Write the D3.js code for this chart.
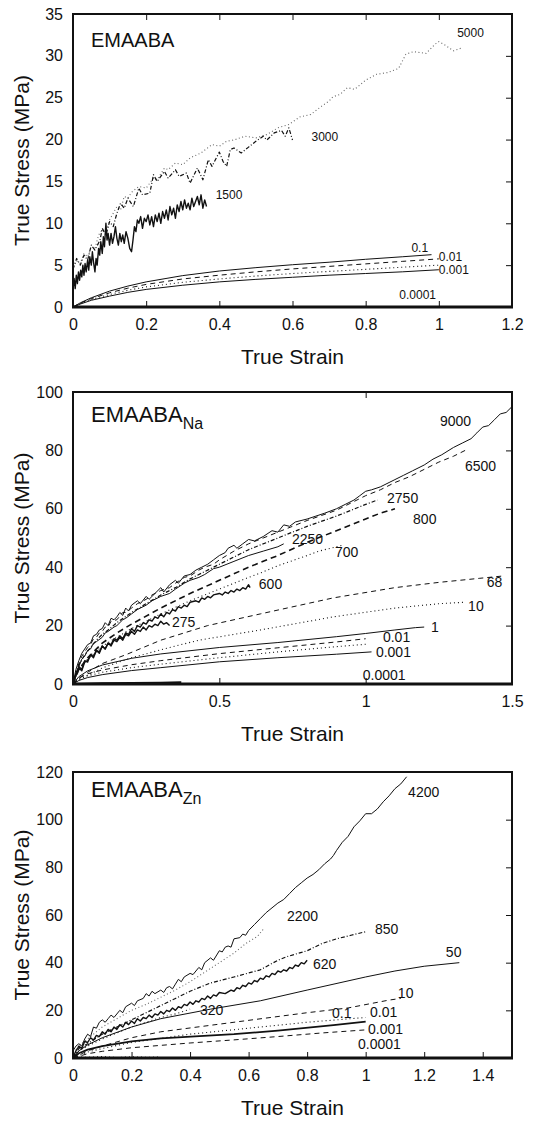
<!DOCTYPE html>
<html>
<head>
<meta charset="utf-8">
<script src="https://cdn.jsdelivr.net/npm/d3@7"></script>
<style>
  body { margin: 0; background: #fff; }
  svg text { font-family: "Liberation Sans", Arial, sans-serif; fill: #111; }
</style>
</head>
<body>
<div class="chart"></div>
<script>
const width = 544;
const height = 1124;

// ---- panel 1 : EMAABA ----
const p1_5000 = [[0,4.8],[0.01,5.5],[0.02,5.2],[0.03,6.4],[0.04,6.0],[0.05,7.2],[0.06,7.0],[0.07,8.6],[0.08,9.2],[0.09,8.8],[0.1,10.4],[0.11,11.2],[0.12,12.0],[0.13,11.6],[0.14,13.2],[0.15,13.0],[0.16,13.7],[0.18,14.4],[0.2,14.2],[0.22,15.4],[0.23,15.2],[0.25,16.6],[0.26,16.4],[0.28,17.2],[0.3,17.0],[0.32,17.8],[0.35,18.4],[0.38,19.4],[0.4,19.2],[0.42,19.8],[0.44,19.95],[0.47,20.4],[0.5,20.2],[0.53,20.6],[0.56,21.4],[0.59,21.8],[0.62,22.7],[0.65,23.0],[0.68,24.0],[0.7,24.6],[0.71,25.1],[0.73,25.4],[0.75,26.2],[0.77,26.0],[0.8,27.1],[0.83,27.8],[0.86,28.0],[0.89,28.5],[0.91,30.2],[0.93,30.5],[0.965,30.3],[0.99,31.4],[1.0,31.7],[1.02,31.2],[1.04,30.6],[1.066,31.0]];
const p1_3000 = [[0,4.5],[0.01,5.8],[0.02,5.0],[0.03,6.2],[0.04,5.6],[0.05,7.4],[0.06,6.8],[0.074,8.0],[0.08,9.4],[0.09,8.6],[0.1,10.2],[0.11,9.6],[0.12,11.2],[0.13,12.4],[0.14,11.8],[0.15,13.0],[0.165,12.0],[0.18,14.2],[0.19,13.4],[0.21,13.6],[0.22,15.8],[0.23,15.0],[0.25,16.2],[0.26,15.4],[0.28,16.4],[0.29,15.6],[0.31,16.0],[0.32,14.8],[0.34,16.6],[0.355,15.2],[0.37,17.6],[0.38,16.8],[0.4,18.5],[0.41,17.4],[0.42,16.8],[0.43,18.8],[0.44,19.0],[0.46,18.4],[0.48,19.1],[0.5,19.8],[0.52,20.4],[0.53,19.95],[0.55,20.8],[0.57,21.1],[0.58,20.4],[0.59,21.4],[0.6,19.95]];
const p1_1500 = [[0,2],[0.003,3.4],[0.006,2.2],[0.009,3.8],[0.012,2.8],[0.015,4.2],[0.018,3.2],[0.021,4.4],[0.024,3.6],[0.027,5.0],[0.03,3.8],[0.033,5.2],[0.036,4.2],[0.04,5.6],[0.043,4.4],[0.046,6.0],[0.05,5.0],[0.053,6.6],[0.056,5.4],[0.06,4.2],[0.063,5.8],[0.066,5.0],[0.07,7.0],[0.073,6.2],[0.076,7.8],[0.08,6.4],[0.083,8.4],[0.086,7.2],[0.09,10.0],[0.093,8.0],[0.096,8.8],[0.1,7.4],[0.104,8.8],[0.108,7.6],[0.112,8.4],[0.116,9.6],[0.12,8.2],[0.124,7.4],[0.128,8.8],[0.132,7.8],[0.136,8.6],[0.14,7.6],[0.145,9.0],[0.15,8.2],[0.155,7.0],[0.16,6.6],[0.164,8.0],[0.168,9.6],[0.172,9.0],[0.176,10.4],[0.18,10.0],[0.185,10.8],[0.19,9.4],[0.195,10.6],[0.2,10.2],[0.205,11.0],[0.21,9.8],[0.215,10.8],[0.22,9.6],[0.225,11.0],[0.23,10.2],[0.235,11.2],[0.24,10.0],[0.245,11.4],[0.25,10.6],[0.255,11.6],[0.26,10.4],[0.265,12.0],[0.27,11.0],[0.275,11.8],[0.28,10.6],[0.285,12.2],[0.29,11.4],[0.295,12.6],[0.3,11.6],[0.305,12.8],[0.31,11.8],[0.315,12.4],[0.32,11.6],[0.325,13.0],[0.33,12.0],[0.335,12.6],[0.34,13.2],[0.345,12.2],[0.35,13.4],[0.355,11.8],[0.36,12.8],[0.365,12.0]];
const p1_r01 = [[0,0],[0.02,0.5],[0.05,1.1],[0.1,1.9],[0.15,2.5],[0.2,3.0],[0.3,3.75],[0.4,4.3],[0.5,4.7],[0.6,5.05],[0.7,5.35],[0.8,5.7],[0.9,6.0],[0.98,6.25]];
const p1_r001 = [[0,0],[0.02,0.45],[0.05,1.0],[0.1,1.7],[0.15,2.25],[0.2,2.7],[0.3,3.35],[0.4,3.8],[0.5,4.2],[0.6,4.55],[0.7,4.85],[0.8,5.15],[0.9,5.45],[1.0,5.75]];
const p1_r0001 = [[0,0],[0.02,0.4],[0.05,0.9],[0.1,1.5],[0.15,2.0],[0.2,2.4],[0.3,2.95],[0.4,3.35],[0.5,3.7],[0.6,4.0],[0.7,4.25],[0.8,4.5],[0.9,4.75],[1.0,5.0]];
const p1_r00001 = [[0,0],[0.02,0.35],[0.05,0.8],[0.1,1.3],[0.15,1.75],[0.2,2.1],[0.3,2.6],[0.4,3.0],[0.5,3.3],[0.6,3.55],[0.7,3.8],[0.8,4.0],[0.9,4.2],[1.0,4.45]];
const p1_labels = [["5000",1.05,32.3],["3000",0.652,19.8],["1500",0.39,12.9],["0.1",0.925,6.57],["0.01",1.0,5.5],["0.001",1.0,3.94],["0.0001",0.892,0.96]];
const p1_xticks = [0,0.2,0.4,0.6,0.8,1,1.2];
const p1_yticks = [0,5,10,15,20,25,30,35];

// ---- panel 2 : EMAABA Na ----
const p2_9000 = [[0,0],[0.01,5],[0.02,8],[0.03,10.5],[0.04,12],[0.05,13.5],[0.06,14],[0.07,16.5],[0.08,17],[0.09,18.5],[0.1,19],[0.11,21],[0.12,20],[0.13,22.5],[0.14,22],[0.15,23],[0.16,24.5],[0.17,23.5],[0.18,26],[0.19,25],[0.2,27],[0.22,28.5],[0.23,27.5],[0.25,30],[0.26,29],[0.28,31],[0.3,33],[0.31,31.5],[0.33,34],[0.35,35.5],[0.36,34.5],[0.38,37],[0.4,37.5],[0.42,39],[0.44,40],[0.46,41],[0.48,42.5],[0.5,44],[0.52,45],[0.53,46.5],[0.55,47.5],[0.56,46.5],[0.58,48],[0.6,49.5],[0.62,49],[0.65,50.5],[0.68,52.5],[0.7,52],[0.72,54.5],[0.74,54],[0.76,55.5],[0.8,56.5],[0.83,57.5],[0.86,58.5],[0.9,60],[0.93,61.5],[0.96,63],[0.98,64.5],[1.0,66],[1.02,66.5],[1.05,67.5],[1.08,69],[1.1,70],[1.13,71.5],[1.16,73],[1.2,75],[1.23,77],[1.26,78.5],[1.3,81],[1.33,82.5],[1.36,84],[1.38,86],[1.4,88],[1.42,88.5],[1.44,90.5],[1.46,92.5],[1.48,93],[1.5,95]];
const p2_6500 = [[0,0],[0.02,7],[0.03,9.5],[0.04,11],[0.05,12.5],[0.06,13.5],[0.07,15.5],[0.08,16],[0.09,17.5],[0.1,18],[0.11,19.5],[0.12,19.5],[0.13,21.5],[0.15,22],[0.17,24.5],[0.18,24.5],[0.2,26],[0.22,27.5],[0.25,29],[0.27,30.5],[0.3,32],[0.33,33],[0.35,34.5],[0.38,36.5],[0.4,37],[0.43,39],[0.45,40],[0.48,41],[0.5,42.5],[0.55,45.5],[0.6,48],[0.65,50],[0.7,52],[0.8,56],[0.9,59.5],[1.0,64.5],[1.05,66.5],[1.1,69],[1.15,71],[1.2,73.5],[1.25,76],[1.3,78],[1.34,80]];
const p2_2750 = [[0,0],[0.02,6.5],[0.04,10],[0.06,12.5],[0.08,15],[0.1,17],[0.12,18.5],[0.15,21],[0.2,24.5],[0.25,27.5],[0.3,30.5],[0.35,33],[0.4,36],[0.45,38.5],[0.5,41],[0.55,43.5],[0.6,46],[0.7,50],[0.75,52],[0.8,54],[0.9,57.5],[0.95,59.5],[1.0,61.5],[1.04,63]];
const p2_2250 = [[0,0],[0.02,6],[0.03,8.5],[0.04,9.5],[0.05,11.5],[0.06,12],[0.07,14],[0.08,14.5],[0.1,16],[0.11,17.5],[0.12,18],[0.14,19.5],[0.15,20],[0.17,22],[0.18,22.5],[0.2,24],[0.22,25.5],[0.25,27],[0.27,28.5],[0.3,30],[0.33,31],[0.35,32.5],[0.38,34.5],[0.4,35.5],[0.43,36.5],[0.45,37.5],[0.48,39.5],[0.5,40],[0.55,42],[0.6,44],[0.65,45.5],[0.7,47],[0.72,48]];
const p2_800 = [[0,0],[0.02,5],[0.05,9],[0.1,14],[0.15,17.5],[0.2,20.5],[0.3,26],[0.4,31],[0.5,35.5],[0.6,40],[0.7,44],[0.8,48.5],[0.9,52.5],[1.0,56.5],[1.05,58.5],[1.1,60]];
const p2_700 = [[0,0],[0.02,5],[0.05,8.5],[0.1,13],[0.15,16],[0.2,19],[0.3,24],[0.4,28.5],[0.5,32.5],[0.6,36.5],[0.64,38],[0.7,40.5],[0.8,44],[0.84,45.5],[0.92,47.5]];
const p2_600 = [[0,0],[0.01,3],[0.02,5.5],[0.03,4.5],[0.04,7.5],[0.05,8],[0.06,10],[0.07,9],[0.08,11.5],[0.09,11],[0.1,13],[0.11,12],[0.12,14],[0.13,13.5],[0.14,15.5],[0.15,15],[0.16,16.5],[0.17,15.5],[0.18,17.5],[0.19,17],[0.2,19],[0.21,18],[0.22,20],[0.23,19.5],[0.24,21],[0.25,20.5],[0.26,22],[0.27,21.5],[0.28,23],[0.29,22.5],[0.3,24],[0.31,23],[0.32,24.5],[0.33,24],[0.34,25.5],[0.35,25],[0.36,26.5],[0.37,26],[0.38,27],[0.39,26.5],[0.4,28],[0.42,28.5],[0.43,28],[0.44,29.5],[0.45,29],[0.46,30],[0.47,29.5],[0.48,30.5],[0.5,31],[0.51,30.5],[0.52,31.5],[0.53,31],[0.54,32],[0.55,31.5],[0.56,32.5],[0.57,32],[0.58,33],[0.59,32.5],[0.6,34],[0.605,33]];
const p2_275 = [[0,0],[0.01,3.5],[0.02,6],[0.03,5],[0.04,8],[0.05,7.5],[0.06,10],[0.07,9.5],[0.08,11.5],[0.09,10.5],[0.1,13],[0.11,12],[0.12,14],[0.13,13],[0.14,15],[0.15,14.5],[0.16,16],[0.17,15],[0.18,17],[0.19,16.5],[0.2,18],[0.21,17],[0.22,18.5],[0.23,18],[0.24,19.5],[0.25,18.5],[0.26,20],[0.27,19.5],[0.28,20.5],[0.29,20],[0.3,21.5],[0.31,20.5],[0.32,21],[0.33,20]];
const p2_68 = [[0,0],[0.02,2],[0.05,4],[0.1,7],[0.18,10],[0.3,15],[0.46,20],[0.64,24],[0.89,29.5],[1.1,33],[1.25,34.8],[1.39,36.2],[1.47,37]];
const p2_10 = [[0,0],[0.02,1.5],[0.05,3],[0.1,5.5],[0.2,9],[0.33,12.5],[0.43,15],[0.64,18.5],[0.89,23],[1.1,26],[1.25,27.5],[1.34,28]];
const p2_1 = [[0,0],[0.02,2.5],[0.05,4.5],[0.1,6.5],[0.2,8.8],[0.3,10.3],[0.5,12.5],[0.7,14.2],[0.9,16.2],[1.0,17.3],[1.1,18.5],[1.17,19.3],[1.2,19.5]];
const p2_001 = [[0,0],[0.02,2],[0.05,3.5],[0.1,4.8],[0.2,6.6],[0.3,8],[0.5,10.4],[0.7,12.4],[0.9,14.4],[1.0,15.5]];
const p2_0001 = [[0,0],[0.02,1.6],[0.05,2.8],[0.1,4],[0.2,5.6],[0.3,6.8],[0.5,9],[0.7,11],[0.9,12.8],[1.0,13.6]];
const p2_00001 = [[0,0],[0.02,1.2],[0.05,2.2],[0.1,3.2],[0.2,4.6],[0.3,5.6],[0.5,7.6],[0.7,9],[0.9,10.2],[1.02,11]];
const p2_flat = [[0,0],[0.1,0.3],[0.2,0.4],[0.3,0.5],[0.37,0.6]];
const p2_labels = [["9000",1.254,88.4],["6500",1.339,72.9],["2750",1.073,62],["800",1.162,54.8],["2250",0.748,47.9],["700",0.895,43.5],["600",0.635,32.5],["275",0.338,19.5],["68",1.414,33.2],["10",1.35,25],["1",1.223,17.8],["0.01",1.059,14.3],["0.001",1.035,9.2],["0.0001",0.99,1.4]];
const p2_xticks = [0,0.5,1,1.5];
const p2_yticks = [0,20,40,60,80,100];

// ---- panel 3 : EMAABA Zn ----
const p3_4200 = [[0,3],[0.01,5],[0.02,6],[0.03,5],[0.04,8],[0.05,10],[0.06,9],[0.07,13],[0.08,12.5],[0.09,15],[0.1,16],[0.11,15],[0.12,16.5],[0.13,18],[0.14,17],[0.16,20],[0.17,19],[0.18,21.5],[0.2,23],[0.21,22],[0.22,24],[0.24,25],[0.25,27],[0.26,26],[0.27,28],[0.28,27],[0.3,28.5],[0.31,27.5],[0.32,29.5],[0.33,30],[0.34,29],[0.35,31],[0.36,33],[0.37,32],[0.38,34],[0.4,35.5],[0.41,35],[0.43,38],[0.44,37],[0.45,40],[0.47,42],[0.48,41],[0.5,45],[0.51,44.5],[0.52,46.5],[0.53,47],[0.54,46.5],[0.55,50],[0.57,50.5],[0.58,52],[0.59,51.5],[0.6,53.5],[0.62,56],[0.64,58.5],[0.66,61],[0.68,63],[0.7,65],[0.72,66.5],[0.74,69],[0.76,71.5],[0.78,73.5],[0.8,75.5],[0.82,77],[0.84,79],[0.86,81.5],[0.88,83.5],[0.89,85],[0.9,87],[0.92,90.5],[0.94,93],[0.96,97],[0.98,99.5],[1.0,102.5],[1.02,102.5],[1.04,104.5],[1.06,107.5],[1.08,110],[1.1,113],[1.12,115],[1.14,118]];
const p3_2200 = [[0,2],[0.02,5],[0.05,8],[0.1,13],[0.15,16.5],[0.2,20],[0.25,22.5],[0.3,25.5],[0.35,28.5],[0.4,32],[0.45,36],[0.5,40],[0.55,44],[0.59,48],[0.63,51],[0.65,54]];
const p3_850 = [[0,0],[0.02,4],[0.05,6],[0.1,10],[0.15,13],[0.2,16],[0.25,19],[0.3,22],[0.35,25],[0.4,28],[0.47,31.5],[0.55,34],[0.64,37],[0.7,41],[0.73,42.5],[0.8,45],[0.85,48],[0.9,50],[0.95,51.5],[1.0,53]];
const p3_620 = [[0,0],[0.01,3],[0.02,5],[0.03,4],[0.04,7],[0.05,6.5],[0.06,8.5],[0.07,7.5],[0.08,9.5],[0.09,9],[0.1,11],[0.11,10],[0.12,12],[0.13,11],[0.14,13],[0.15,12],[0.16,14],[0.17,13],[0.18,15],[0.19,14],[0.2,15.5],[0.21,14.5],[0.22,16.5],[0.23,15.5],[0.24,17],[0.25,16.5],[0.26,18],[0.27,17],[0.28,18.5],[0.29,18],[0.3,19.5],[0.31,18.5],[0.32,20],[0.33,19.5],[0.34,21],[0.35,20],[0.36,21.5],[0.37,21],[0.38,22.5],[0.39,22],[0.4,23.5],[0.41,22.5],[0.42,24],[0.43,23.5],[0.44,25],[0.45,24.5],[0.46,26],[0.47,25],[0.48,26.5],[0.49,26],[0.5,27.5],[0.52,27],[0.54,28.5],[0.55,28],[0.56,29.5],[0.57,29],[0.58,30.5],[0.59,30],[0.6,31.5],[0.61,31],[0.62,32.5],[0.63,32],[0.64,33.5],[0.65,33],[0.66,34.5],[0.67,34],[0.68,35.5],[0.69,35],[0.7,36.5],[0.71,36],[0.72,37],[0.73,36.5],[0.74,38],[0.75,37.5],[0.76,39],[0.77,38.5],[0.78,40],[0.79,39.5],[0.8,41]];
const p3_320 = [[0,0],[0.02,3],[0.05,5],[0.1,8],[0.15,10.5],[0.2,13],[0.25,15],[0.3,17],[0.35,18.5],[0.4,20.5]];
const p3_50 = [[0,0],[0.02,3],[0.05,5.5],[0.1,8.5],[0.2,13],[0.3,16.5],[0.47,20.5],[0.64,24],[0.8,28.5],[1.0,34],[1.1,36.5],[1.2,38.5],[1.32,40]];
const p3_10 = [[0,0],[0.05,3],[0.1,5],[0.2,8.5],[0.3,11],[0.55,15],[0.8,19],[0.94,21],[1.08,24.3],[1.12,25]];
const p3_001 = [[0,0],[0.05,2.5],[0.1,4],[0.2,6.5],[0.4,10],[0.6,12.5],[0.8,15],[1.0,17]];
const p3_0001 = [[0,0],[0.02,2],[0.05,3.5],[0.1,5],[0.2,7],[0.3,8.2],[0.55,10],[0.7,11.5],[0.89,13.8],[1.0,15.3]];
const p3_00001 = [[0,0],[0.05,1.8],[0.1,2.8],[0.2,4.3],[0.4,6.3],[0.55,7.6],[0.7,9],[0.85,10.5],[1.0,11.8]];
const p3_flat = [[0,0.5],[0.05,0.3],[0.1,0.6],[0.15,0.2],[0.2,0.5],[0.25,0.3],[0.3,0.4]];
const p3_labels = [["4200",1.145,109.5],["2200",0.731,57.5],["850",1.032,52],["50",1.274,42.4],["620",0.82,37.3],["320",0.434,18],["10",1.11,25.2],["0.1",0.885,16.8],["0.01",1.015,17.2],["0.001",1.008,10.2],["0.0001",0.974,3.6]];
const p3_xticks = [0,0.2,0.4,0.6,0.8,1,1.2,1.4];
const p3_yticks = [0,20,40,60,80,100,120];

const STYLES = {
    solid: { w: 1, dash: null, color: "#111" },
    noisy: { w: 1.4, dash: null, color: "#111" },
    thick: { w: 1.8, dash: null, color: "#111" },
    dash: { w: 1, dash: "5,4", color: "#111" },
    dashThick: { w: 1.6, dash: "6,4", color: "#111" },
    dot: { w: 1.1, dash: "1,3", color: "#111" },
    dotGray: { w: 1.1, dash: "1,2.5", color: "#666" },
    dashdot: { w: 1.2, dash: "4,2,1,2", color: "#111" },
}

const svg = d3.select(".chart").append("svg").attr("width", width).attr("height", height);

function panel(cfg) {
    const x = d3.scaleLinear().domain(cfg.xdom).range([73, 512]);
    const y = d3.scaleLinear().domain(cfg.ydom).range([cfg.bottom, cfg.top]);
    const g = svg.append("g");
    const line = d3.line().x(d => x(d[0])).y(d => y(d[1]));

    // curves
    cfg.series.forEach(s => {
        const st = STYLES[s[1]];
        g.append("path").attr("d", line(s[0])).attr("fill", "none")
            .attr("stroke", st.color).attr("stroke-width", st.w)
            .attr("stroke-dasharray", st.dash).attr("stroke-linejoin", "round");
    });

    // ticks inside the frame
    g.append("g").attr("transform", `translate(0,${cfg.bottom})`)
        .call(d3.axisBottom(x).tickValues(cfg.xticks).tickSize(-6).tickPadding(9)
            .tickFormat(d => d))
        .call(a => a.select(".domain").remove())
        .call(a => a.selectAll("text").attr("font-size", 16).attr("dy", "0.9em"));
    g.append("g").attr("transform", `translate(73,0)`)
        .call(d3.axisLeft(y).tickValues(cfg.yticks).tickSize(0).tickPadding(10))
        .call(a => a.select(".domain").remove())
        .call(a => a.selectAll("text").attr("font-size", 16));
    g.append("g").attr("transform", `translate(512,0)`)
        .call(d3.axisRight(y).tickValues(cfg.yticks.slice(1, -1)).tickSize(-6).tickFormat(""))
        .call(a => a.select(".domain").remove());
    g.append("g").attr("transform", `translate(0,${cfg.top})`)
        .call(d3.axisTop(x).tickValues(cfg.topticks).tickSize(-6).tickFormat(""))
        .call(a => a.select(".domain").remove());
    g.selectAll(".tick line").attr("stroke", "#111").attr("stroke-width", 1);

    // frame
    g.append("rect").attr("x", 73).attr("y", cfg.top).attr("width", 439).attr("height", cfg.bottom - cfg.top)
        .attr("fill", "none").attr("stroke", "#111").attr("stroke-width", 2);
    g.append("line").attr("x1", 72).attr("x2", 513).attr("y1", cfg.bottom).attr("y2", cfg.bottom)
        .attr("stroke", "#111").attr("stroke-width", 3);

    // curve labels
    cfg.labels.forEach(l => {
        g.append("text").attr("x", x(l[1])).attr("y", y(l[2])).attr("font-size", cfg.labelSize).text(l[0]);
    });

    // title
    const t = g.append("text").attr("x", 91).attr("y", cfg.top + cfg.titleDy).attr("font-size", cfg.titleSize).text("EMAABA");
    if (cfg.sub) t.append("tspan").attr("font-size", 16).attr("dy", 7).text(cfg.sub);

    // axis titles
    g.append("text").attr("x", 292.5).attr("y", cfg.bottom + 57).attr("text-anchor", "middle")
        .attr("font-size", 21).text("True Strain");
    g.append("text").attr("transform", `translate(29,${(cfg.top + cfg.bottom) / 2}) rotate(-90)`)
        .attr("text-anchor", "middle").attr("font-size", 21).text("True Stress (MPa)");
}

panel({
    xdom: [0, 1.2], ydom: [0, 35], top: 14, bottom: 307,
    xticks: p1_xticks, yticks: p1_yticks, topticks: [0.2, 0.4, 0.6, 0.8, 1.0],
    labels: p1_labels, labelSize: 12, titleSize: 20, titleDy: 33,
    series: [[p1_r00001, "solid"], [p1_r0001, "dot"], [p1_r001, "dash"], [p1_r01, "solid"],
        [p1_5000, "dotGray"], [p1_3000, "dashdot"], [p1_1500, "noisy"]]
});

panel({
    xdom: [0, 1.5], ydom: [0, 100], top: 392, bottom: 684,
    xticks: p2_xticks, yticks: p2_yticks, topticks: [1],
    labels: p2_labels, labelSize: 14, titleSize: 22, titleDy: 30, sub: "Na",
    series: [[p2_flat, "thick"], [p2_00001, "solid"], [p2_0001, "dot"], [p2_001, "dash"], [p2_1, "solid"],
        [p2_10, "dot"], [p2_68, "dash"], [p2_275, "noisy"], [p2_600, "noisy"], [p2_700, "dot"],
        [p2_800, "dashThick"], [p2_2250, "solid"], [p2_2750, "dashdot"], [p2_6500, "dash"], [p2_9000, "solid"]]
});

panel({
    xdom: [0, 1.5], ydom: [0, 120], top: 772, bottom: 1058,
    xticks: p3_xticks, yticks: p3_yticks, topticks: [],
    labels: p3_labels, labelSize: 14, titleSize: 22, titleDy: 25, sub: "Zn",
    series: [[p3_flat, "dot"], [p3_00001, "dash"], [p3_0001, "thick"], [p3_001, "dot"], [p3_10, "dash"],
        [p3_50, "solid"], [p3_320, "dot"], [p3_620, "noisy"], [p3_850, "dashdot"], [p3_2200, "dotGray"], [p3_4200, "solid"]]
});
</script>
</body>
</html>
